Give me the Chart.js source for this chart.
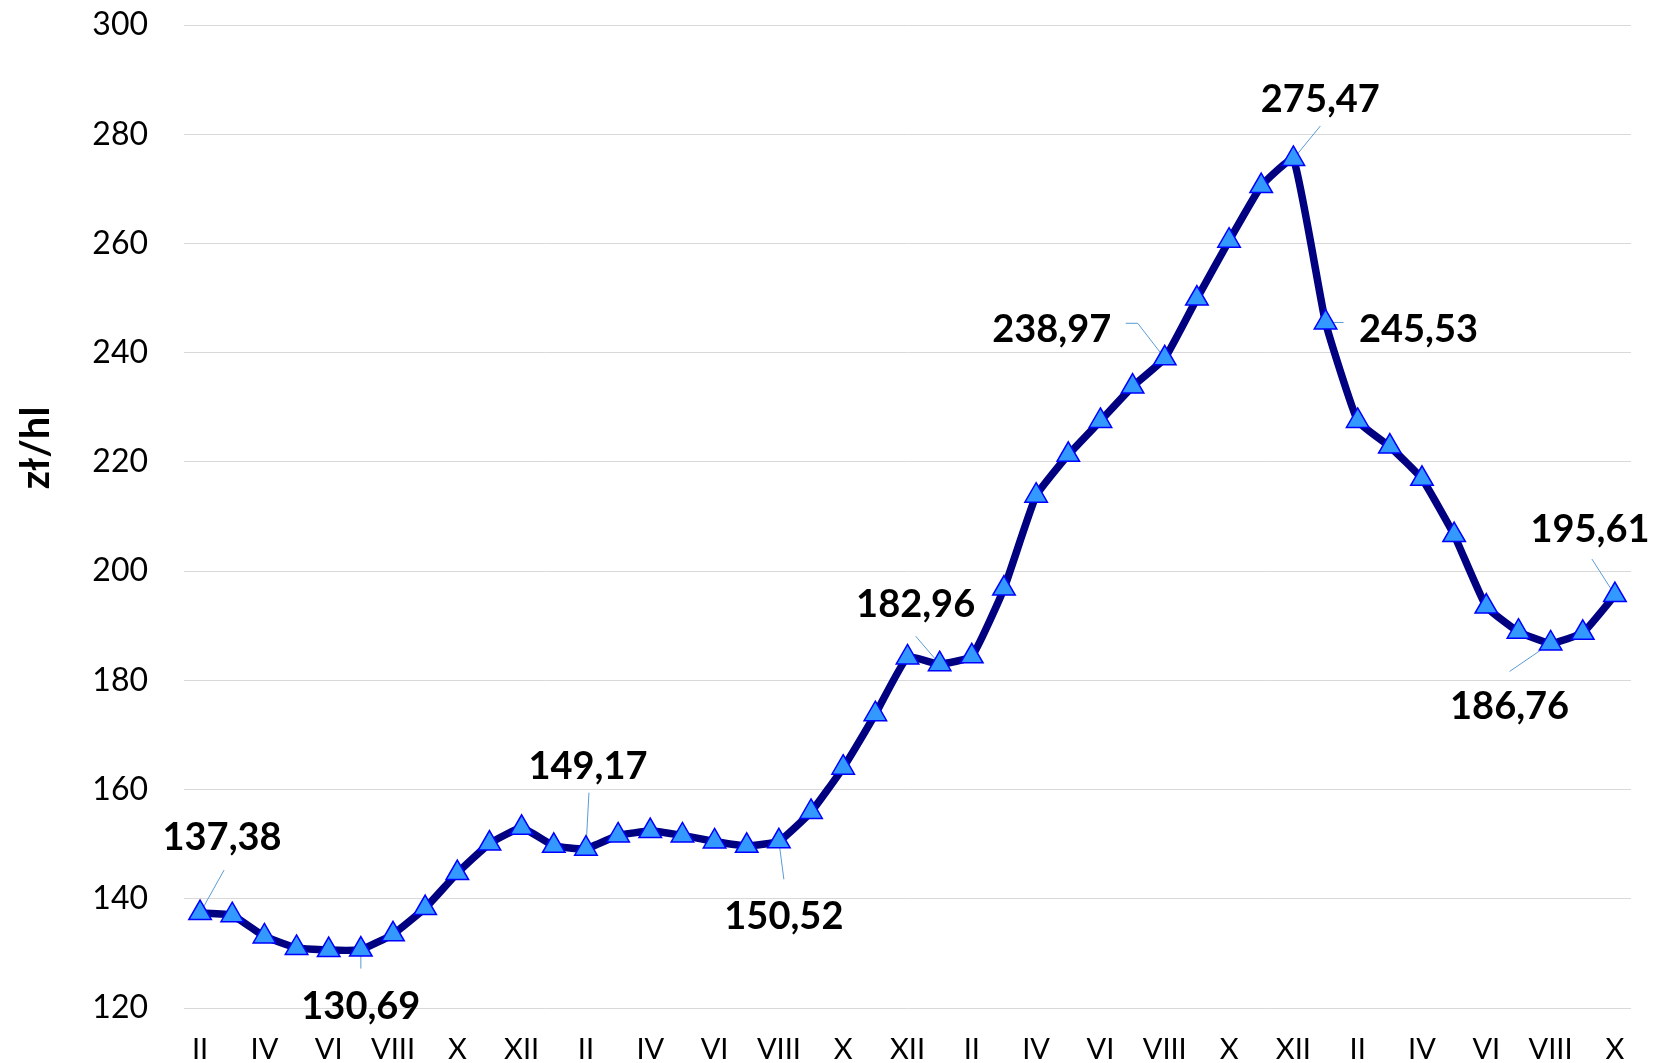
<!DOCTYPE html>
<html>
<head>
<meta charset="utf-8">
<script src="https://cdn.jsdelivr.net/npm/chart.js@4.4.0/dist/chart.umd.min.js"></script>
<style>
  html, body { margin: 0; padding: 0; background: #fff; }
</style>
</head>
<body>
<canvas id="myChart" width="1655" height="1063"></canvas>
<script>
// months (Feb of the first year .. Oct of the fourth year), one point per month
var months = [
  'II', 'III', 'IV', 'V', 'VI', 'VII', 'VIII', 'IX', 'X', 'XI', 'XII',
  'I', 'II', 'III', 'IV', 'V', 'VI', 'VII', 'VIII', 'IX', 'X', 'XI', 'XII',
  'I', 'II', 'III', 'IV', 'V', 'VI', 'VII', 'VIII', 'IX', 'X', 'XI', 'XII',
  'I', 'II', 'III', 'IV', 'V', 'VI', 'VII', 'VIII', 'IX', 'X'
];
// price, zł/hl
var prices = [
  137.38, 137.0, 133.1, 131.0, 130.6, 130.69, 133.5, 138.3, 144.7, 150.1, 153.0,
  149.7, 149.17, 151.6, 152.4, 151.6, 150.5, 149.7, 150.52, 155.9, 164.0, 173.8, 184.2,
  182.96, 184.4, 196.8, 213.8, 221.3, 227.5, 233.8, 238.97, 249.9, 260.5, 270.5, 275.47,
  245.53, 227.5, 222.8, 216.9, 206.6, 193.5, 188.9, 186.76, 188.7, 195.61
];
var yMin = 120, yMax = 300, yStep = 20;

// which points get a value label, and where the label sits (px offsets from the point)
var notes = [
  { i: 0,  dx: 22,   dy: -75, leader: [[24, -43]] },
  { i: 5,  dx: 0,    dy: 57,  leader: [[0, 19]] },
  { i: 12, dx: 2,    dy: -82, leader: [[3, -56]] },
  { i: 18, dx: 5,    dy: 75,  leader: [[5, 38]] },
  { i: 23, dx: -24,  dy: -59, leader: [[-24, -28]] },
  { i: 30, dx: -113, dy: -29, leader: [[-27, -35], [-39, -35]] },
  { i: 34, dx: 27,   dy: -59, leader: [[27, -33]] },
  { i: 35, dx: 93,   dy: 7,   leader: [[18, 0]] },
  { i: 42, dx: -41,  dy: 63,  leader: [[-41, 28]] },
  { i: 44, dx: -25,  dy: -65, leader: [[-23, -36]] }
];

function fmt(v) {
  return v.toFixed(2).replace('.', ',');
}

var notesPlugin = {
  id: 'notes',
  beforeDatasetsDraw: function(chart) {
    var ctx = chart.ctx;
    var meta = chart.getDatasetMeta(0);
    ctx.save();
    ctx.strokeStyle = '#5b9bd5';
    ctx.lineWidth = 1;
    notes.forEach(function(n) {
      var p = meta.data[n.i];
      ctx.beginPath();
      ctx.moveTo(p.x, p.y);
      n.leader.forEach(function(l) { ctx.lineTo(p.x + l[0], p.y + l[1]); });
      ctx.stroke();
    });
    ctx.restore();
  },
  afterDatasetsDraw: function(chart) {
    var ctx = chart.ctx;
    var meta = chart.getDatasetMeta(0);
    ctx.save();
    ctx.fillStyle = '#000';
    ctx.font = 'bold 38px Lato';
    ctx.textAlign = 'center';
    ctx.textBaseline = 'middle';
    notes.forEach(function(n) {
      var p = meta.data[n.i];
      ctx.fillText(fmt(prices[n.i]), p.x + n.dx, p.y + n.dy);
    });
    // y axis title
    ctx.translate(36, 448);
    ctx.rotate(-Math.PI / 2);
    ctx.font = 'bold 40px Lato';
    ctx.fillText('zł/hl', 0, 0);
    ctx.restore();
  }
};

var ctx = document.getElementById('myChart');
var myChart = new Chart(ctx, {
  type: 'line',
  data: {
    labels: months,
    datasets: [{
      label: 'zł/hl',
      data: prices,
      fill: false,
      borderColor: '#000080',
      borderWidth: 7.5,
      tension: 0.12,
      pointStyle: 'triangle',
      pointRadius: 13,
      pointBackgroundColor: '#3399ff',
      pointBorderColor: '#0000ff',
      pointBorderWidth: 1.5
    }]
  },
  options: {
    responsive: false,
    animation: false,
    events: [],
    layout: { padding: { top: 25, right: 24, left: 0, bottom: 0 } },
    plugins: {
      legend: { display: false },
      tooltip: { enabled: false }
    },
    scales: {
      x: {
        offset: true,
        grid: { display: false, drawTicks: false },
        border: { display: false },
        ticks: {
          autoSkip: false,
          maxRotation: 0,
          padding: 24,
          color: '#000',
          font: { family: 'Lato', size: 29 },
          callback: function(value, index) {
            return index % 2 === 0 ? months[index] : '';
          }
        },
        afterFit: function(s) { s.height = 55; }
      },
      y: {
        min: yMin,
        max: yMax,
        grid: {
          color: '#d9d9d9',
          lineWidth: 1,
          drawTicks: true,
          tickLength: 32,
          tickColor: 'rgba(0,0,0,0)'
        },
        border: { display: false },
        ticks: {
          stepSize: yStep,
          padding: 4,
          color: '#000',
          font: { family: 'Lato', size: 32 }
        },
        afterFit: function(s) { s.width = 184; }
      }
    }
  },
  plugins: [notesPlugin]
});
</script>
</body>
</html>
